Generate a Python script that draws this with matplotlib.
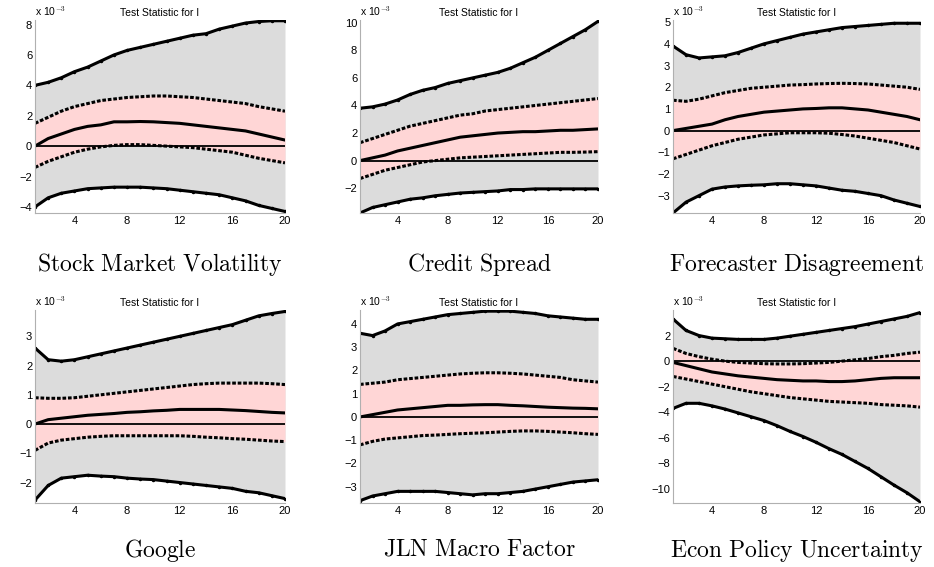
import numpy as np
import matplotlib
matplotlib.use('Agg')
import matplotlib.pyplot as plt

plt.rcParams['font.family'] = ['Liberation Sans', 'DejaVu Sans']
plt.rcParams['mathtext.fontset'] = 'cm'

# ── Data (units of 1e-3), horizons 1..20 ─────────────────────
h = np.arange(1, 21)
names = ['Stock Market Volatility', 'Credit Spread', 'Forecaster Disagreement',
         'Google', 'JLN Macro Factor', 'Econ Policy Uncertainty']

outer_up = [
    [4.0,4.2,4.5,4.9,5.2,5.6,6.0,6.3,6.5,6.7,6.9,7.1,7.3,7.4,7.7,7.9,8.1,8.2,8.25,8.25],
    [3.8,3.9,4.1,4.4,4.8,5.1,5.3,5.6,5.8,6.0,6.2,6.4,6.7,7.1,7.5,8.0,8.5,9.0,9.5,10.1],
    [3.9,3.5,3.35,3.4,3.45,3.6,3.8,4.0,4.15,4.3,4.45,4.55,4.65,4.75,4.8,4.85,4.9,4.95,4.95,4.95],
    [2.6,2.2,2.15,2.2,2.3,2.4,2.5,2.6,2.7,2.8,2.9,3.0,3.1,3.2,3.3,3.4,3.55,3.7,3.78,3.85],
    [3.6,3.5,3.7,4.0,4.1,4.2,4.3,4.4,4.45,4.5,4.55,4.55,4.55,4.5,4.45,4.35,4.3,4.25,4.2,4.2],
    [3.3,2.4,2.0,1.8,1.75,1.7,1.7,1.7,1.8,1.95,2.1,2.25,2.4,2.55,2.7,2.9,3.1,3.3,3.5,3.8],
]
inner_up = [
    [1.5,1.9,2.3,2.6,2.8,3.0,3.1,3.2,3.25,3.3,3.3,3.25,3.2,3.1,3.0,2.9,2.8,2.6,2.45,2.3],
    [1.3,1.6,1.9,2.2,2.5,2.7,2.9,3.1,3.3,3.4,3.6,3.7,3.8,3.9,4.0,4.1,4.2,4.3,4.4,4.5],
    [1.4,1.35,1.45,1.6,1.75,1.85,1.95,2.0,2.05,2.1,2.12,2.15,2.17,2.18,2.17,2.15,2.1,2.05,2.0,1.9],
    [0.9,0.88,0.88,0.9,0.95,1.0,1.05,1.1,1.15,1.2,1.25,1.3,1.35,1.38,1.4,1.4,1.4,1.4,1.38,1.35],
    [1.4,1.45,1.5,1.6,1.65,1.7,1.75,1.8,1.85,1.88,1.9,1.9,1.88,1.85,1.8,1.75,1.7,1.6,1.55,1.5],
    [1.0,0.6,0.35,0.15,0.0,-0.1,-0.15,-0.2,-0.22,-0.22,-0.2,-0.15,-0.1,0.0,0.1,0.2,0.35,0.45,0.6,0.7],
]
median = [
    [0,0.5,0.8,1.1,1.3,1.4,1.6,1.6,1.62,1.6,1.55,1.5,1.4,1.3,1.2,1.1,1.0,0.8,0.6,0.4],
    [0,0.2,0.4,0.7,0.9,1.1,1.3,1.5,1.7,1.8,1.9,2.0,2.05,2.1,2.1,2.15,2.2,2.2,2.25,2.3],
    [0,0.1,0.2,0.3,0.5,0.65,0.75,0.85,0.9,0.95,1.0,1.02,1.05,1.05,1.0,0.95,0.85,0.75,0.65,0.5],
    [0,0.15,0.2,0.25,0.3,0.33,0.36,0.4,0.42,0.45,0.47,0.5,0.5,0.5,0.5,0.48,0.46,0.43,0.4,0.38],
    [0,0.1,0.2,0.3,0.35,0.4,0.45,0.5,0.5,0.52,0.53,0.53,0.5,0.48,0.45,0.42,0.4,0.38,0.37,0.35],
    [-0.1,-0.35,-0.6,-0.85,-1.0,-1.15,-1.25,-1.35,-1.45,-1.5,-1.55,-1.55,-1.6,-1.6,-1.55,-1.45,-1.35,-1.3,-1.3,-1.3],
]
inner_lo = [
    [-1.4,-1.0,-0.7,-0.4,-0.2,-0.05,0.05,0.1,0.1,0.05,0,-0.05,-0.1,-0.2,-0.3,-0.4,-0.6,-0.8,-0.95,-1.1],
    [-1.3,-1.0,-0.7,-0.5,-0.3,-0.1,0.0,0.1,0.2,0.25,0.3,0.35,0.4,0.45,0.5,0.55,0.6,0.6,0.62,0.65],
    [-1.3,-1.1,-0.9,-0.7,-0.55,-0.4,-0.3,-0.2,-0.15,-0.1,-0.1,-0.1,-0.12,-0.18,-0.25,-0.35,-0.45,-0.55,-0.7,-0.85],
    [-0.9,-0.65,-0.55,-0.5,-0.45,-0.42,-0.4,-0.4,-0.4,-0.4,-0.4,-0.4,-0.42,-0.45,-0.47,-0.5,-0.52,-0.55,-0.58,-0.6],
    [-1.2,-1.05,-0.95,-0.9,-0.85,-0.8,-0.78,-0.75,-0.72,-0.7,-0.68,-0.65,-0.62,-0.6,-0.6,-0.62,-0.65,-0.68,-0.72,-0.75],
    [-1.2,-1.4,-1.6,-1.8,-2.0,-2.2,-2.4,-2.55,-2.7,-2.85,-2.95,-3.05,-3.15,-3.2,-3.25,-3.3,-3.4,-3.45,-3.5,-3.6],
]
outer_lo = [
    [-4.0,-3.4,-3.1,-2.95,-2.8,-2.75,-2.7,-2.7,-2.7,-2.75,-2.8,-2.9,-3.0,-3.1,-3.2,-3.4,-3.6,-3.9,-4.1,-4.3],
    [-3.8,-3.4,-3.2,-3.0,-2.8,-2.7,-2.55,-2.45,-2.35,-2.3,-2.25,-2.2,-2.1,-2.1,-2.05,-2.05,-2.05,-2.05,-2.05,-2.05],
    [-3.8,-3.3,-3.0,-2.7,-2.6,-2.55,-2.52,-2.5,-2.45,-2.45,-2.5,-2.55,-2.65,-2.75,-2.8,-2.9,-3.0,-3.2,-3.35,-3.5],
    [-2.6,-2.1,-1.85,-1.8,-1.75,-1.78,-1.8,-1.85,-1.88,-1.9,-1.95,-2.0,-2.05,-2.1,-2.15,-2.2,-2.3,-2.35,-2.45,-2.55],
    [-3.6,-3.4,-3.3,-3.2,-3.2,-3.2,-3.2,-3.25,-3.3,-3.35,-3.3,-3.3,-3.25,-3.2,-3.1,-3.0,-2.9,-2.8,-2.75,-2.7],
    [-3.7,-3.3,-3.3,-3.5,-3.75,-4.05,-4.35,-4.65,-5.05,-5.5,-5.9,-6.35,-6.85,-7.3,-7.85,-8.4,-9.05,-9.7,-10.3,-11.0],
]
ylims = [(-4.4, 8.3), (-3.8, 10.2), (-3.8, 5.1), (-2.7, 3.9), (-3.7, 4.6), (-11.1, 4.0)]
yticks = [range(-4, 9, 2), range(-2, 11, 2), range(-3, 6), range(-2, 4), range(-3, 5), range(-10, 3, 2)]

# ── Layout (pixels) ──────────────────────────────────────────
W, H = 934, 567
cols = [(35, 285), (360, 598), (673, 920)]
rows = [(20, 213), (310, 503)]
cap_y = [265, 550]

fig = plt.figure(figsize=(W / 100, H / 100), dpi=100)
for i in range(6):
    r, c = divmod(i, 3)
    x0, x1 = cols[c]
    y0, y1 = rows[r]
    ax = fig.add_axes([x0 / W, 1 - y1 / H, (x1 - x0) / W, (y1 - y0) / H])
    ax.fill_between(h, outer_lo[i], outer_up[i], color='#dcdcdc', lw=0)
    ax.fill_between(h, inner_lo[i], inner_up[i], color='#ffd6d6', lw=0)
    ax.axhline(0, color='black', lw=1.3)
    for s in (outer_up[i], outer_lo[i]):
        ax.plot(h, s, color='black', lw=2.2, marker='.', ms=3)
    for s in (inner_up[i], inner_lo[i]):
        ax.plot(h, s, color='black', lw=2.2, ls=(0, (1.2, 0.6)))
    ax.plot(h, median[i], color='black', lw=2.2)
    ax.set_xlim(1, 20)
    ax.set_ylim(*ylims[i])
    ax.set_xticks([4, 8, 12, 16, 20])
    ax.set_yticks(list(yticks[i]))
    ax.tick_params(labelsize=8, length=0, pad=2)
    for sp in ('top', 'right'):
        ax.spines[sp].set_visible(False)
    for sp in ('left', 'bottom'):
        ax.spines[sp].set_color('#b0b0b0')
    ax.set_title('Test Statistic for I', fontsize=7.5, pad=3)
    ax.text(0, 1.01, r'x 10$^{-3}$', transform=ax.transAxes, fontsize=7.5, va='bottom')
    fig.text((x0 + x1) / 2 / W, 1 - cap_y[r] / H, r'$\mathrm{' + names[i].replace(' ', r'\ ') + '}$',
             ha='center', va='center', fontsize=17)

plt.savefig('out.png', dpi=100)
